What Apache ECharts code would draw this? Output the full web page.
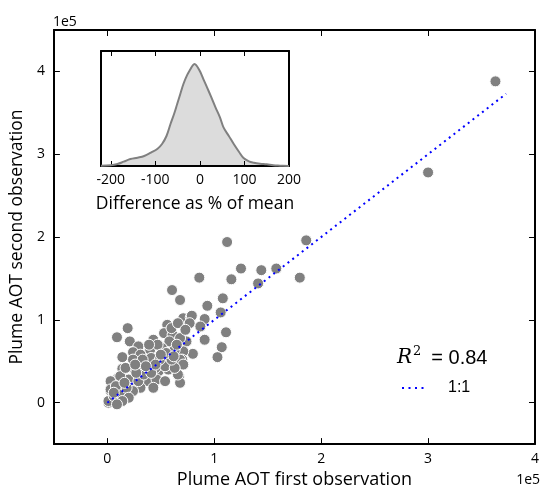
<!DOCTYPE html>
<html>
<head>
<meta charset="utf-8">
<script src="https://cdn.jsdelivr.net/npm/echarts@6/dist/echarts.min.js"></script>
<style>
html,body{margin:0;padding:0;background:#fff;}
#chart{width:542px;height:494px;}
</style>
</head>
<body>
<div id="chart"></div>
<script>
// ---- data (units of 1e5) ----
const mainXTicks = [0, 1, 2, 3, 4];
const mainYTicks = [0, 1, 2, 3, 4];
const insetTicks = [-200, -100, 0, 100, 200];

const firstObs = [3.63,3.00,1.86,1.12,1.80,1.58,1.44,1.25,1.16,1.41,0.86,0.605,0.68,0.935,1.08,1.06,1.11,1.07,1.03,0.91,
  0.74,0.71,0.78,0.79,0.91,0.77,0.87,0.80,0.71,0.70,0.19,0.09,0.21,0.29,0.56,0.53,0.61,0.43,0.58,0.68,
  0.40,0.51,0.63,0.24,0.31,0.14,0.34,0.41,0.51,0.58,0.68,0.71,0.14,0.24,0.35,0.48,0.57,0.67,0.68,0.10,
  0.20,0.31,0.38,0.46,0.43,0.31,0.21,0.03,0.03,0.12,0.04,0.15,0.01,0.24,0.01,0.06,0.12,0.03,0.18,0.29,
  0.12,0.54,0.66,0.17,0.45,0.54,0.63,0.34,0.41,0.24,0.33,0.49,0.60,0.20,0.14,0.09,0.47,0.55,0.45,0.27,
  0.08,0.06,0.16,0.36,0.62,0.50,0.26,0.39,0.60,0.66,0.73,0.65];
const secondObs = [3.88,2.78,1.96,1.94,1.51,1.62,1.60,1.62,1.49,1.44,1.51,1.36,1.24,1.17,1.26,1.09,0.85,0.67,0.55,0.76,
  0.74,1.02,1.03,1.05,1.01,0.96,0.92,0.59,0.62,0.52,0.90,0.79,0.74,0.68,0.94,0.84,0.82,0.76,0.74,0.78,
  0.64,0.66,0.64,0.61,0.58,0.55,0.50,0.54,0.52,0.48,0.52,0.46,0.41,0.42,0.40,0.38,0.40,0.32,0.24,0.30,
  0.28,0.30,0.26,0.28,0.18,0.18,0.18,0.26,0.14,0.10,0.04,0.06,0.00,0.14,0.02,0.08,0.12,0.16,0.18,0.26,
  0.32,0.26,0.34,0.42,0.42,0.44,0.42,0.34,0.36,0.52,0.52,0.52,0.52,0.06,0.02,-0.02,0.70,0.60,0.46,0.36,
  0.20,0.12,0.24,0.44,0.56,0.58,0.46,0.70,0.90,0.96,0.88,0.70];

const oneToOne = [0, 3.73];

const kdeX = [-222,-200,-185,-171,-156,-140,-125,-110,-95,-85,-75,-66,-58,-51,-44,-37,-29,-21,-16,-12,
  -8,-3,1,8,16,25,35,45,53,65,76,88,98,110,121,135,150,165,180,200];
const kdeY = [0.5,2,6,13,21,25,30,40,52,66,90,126,156,186,216,246,272,291,302,306,
  302,292,282,260,236,208,176,146,116,90,66,42,24,14,10,7,5,2,1,0];

const rSquared = '0.84';
const legendLabel = '1:1';

// ---- build ----
const scatterData = firstObs.map((x, i) => [x, secondObs[i]]);
const lineData = oneToOne.map(v => [v, v]);
const kdeData = kdeX.map((x, i) => [x, kdeY[i]]);

const FONT = 'Open Sans';
const chart = echarts.init(document.getElementById('chart'), null, {renderer: 'canvas'});

function mainAxis(extra) {
  return Object.assign({
    gridIndex: 0,
    type: 'value',
    axisLine: {show: true, onZero: false, lineStyle: {color: '#000', width: 2}},
    axisTick: {show: true, inside: true, length: 6, lineStyle: {color: '#000', width: 1}},
    splitLine: {show: false},
    axisLabel: {show: false}
  }, extra);
}

const option = {
  color: ['#808080', '#0000ff', '#808080'],
  backgroundColor: '#fff',
  animation: false,
  grid: [
    {left: 53, top: 30, width: 487, height: 417, show: true, backgroundColor: '#fff', borderWidth: 0},
    {left: 101, top: 51, width: 188, height: 115, show: true, backgroundColor: '#fff', borderWidth: 0, z: 5}
  ],
  xAxis: [
    mainAxis({position: 'bottom', min: -0.5, max: 4,
      axisTick: {show: true, inside: true, length: 6, customValues: mainXTicks, lineStyle: {color: '#000', width: 1}},
      axisLabel: {show: true, customValues: mainXTicks, margin: 8, color: '#000', fontSize: 14, fontFamily: FONT},
      name: 'Plume AOT first observation', nameLocation: 'middle', nameGap: 24,
      nameTextStyle: {color: '#000', fontSize: 18, fontFamily: FONT}}),
    mainAxis({position: 'top', min: -0.5, max: 4,
      axisTick: {show: true, inside: true, length: 6, customValues: mainXTicks, lineStyle: {color: '#000', width: 1}}}),
    {gridIndex: 1, type: 'value', position: 'bottom', min: -222, max: 200, z: 6,
      axisLine: {show: true, onZero: false, lineStyle: {color: '#000', width: 2}},
      axisTick: {show: true, inside: true, length: 5, customValues: insetTicks, lineStyle: {color: '#000', width: 1}},
      axisLabel: {show: true, customValues: insetTicks, margin: 7, color: '#000', fontSize: 14, fontFamily: FONT},
      splitLine: {show: false},
      name: 'Difference as % of mean', nameLocation: 'middle', nameGap: 29,
      nameTextStyle: {color: '#000', fontSize: 17.5, fontFamily: FONT}},
    {gridIndex: 1, type: 'value', position: 'top', min: -222, max: 200, z: 6,
      axisLine: {show: true, onZero: false, lineStyle: {color: '#000', width: 2}},
      axisTick: {show: true, inside: true, length: 5, customValues: insetTicks, lineStyle: {color: '#000', width: 1}},
      axisLabel: {show: false}, splitLine: {show: false}}
  ],
  yAxis: [
    mainAxis({position: 'left', min: -0.5, max: 4.5,
      axisTick: {show: true, inside: true, length: 6, customValues: mainYTicks, lineStyle: {color: '#000', width: 1}},
      axisLabel: {show: true, customValues: mainYTicks, margin: 9, color: '#000', fontSize: 14, fontFamily: FONT},
      name: 'Plume AOT second observation', nameLocation: 'middle', nameGap: 25,
      nameTextStyle: {color: '#000', fontSize: 17.5, fontFamily: FONT}}),
    mainAxis({position: 'right', min: -0.5, max: 4.5,
      axisTick: {show: true, inside: true, length: 6, customValues: mainYTicks, lineStyle: {color: '#000', width: 1}}}),
    {gridIndex: 1, type: 'value', position: 'left', min: 0, max: 345, z: 6,
      axisLine: {show: true, onZero: false, lineStyle: {color: '#000', width: 2}},
      axisTick: {show: false}, axisLabel: {show: false}, splitLine: {show: false}},
    {gridIndex: 1, type: 'value', position: 'right', min: 0, max: 345, z: 6,
      axisLine: {show: true, onZero: false, lineStyle: {color: '#000', width: 2}},
      axisTick: {show: false}, axisLabel: {show: false}, splitLine: {show: false}}
  ],
  graphic: [
    {type: 'text', x: 53, y: 15, style: {text: '1e5', fill: '#000', font: '14px "Open Sans"', align: 'left', verticalAlign: 'top'}},
    {type: 'text', x: 540, y: 473, style: {text: '1e5', fill: '#000', font: '14px "Open Sans"', align: 'right', verticalAlign: 'top'}},
    {type: 'text', x: 397, y: 345, style: {
      text: '{r|R}{s|2}{t|= ' + rSquared + '}',
      rich: {
        r: {fontFamily: 'DejaVu Serif', fontStyle: 'italic', fontSize: 20, fill: '#000', verticalAlign: 'bottom'},
        s: {fontFamily: 'DejaVu Serif', fontSize: 13, fill: '#000', verticalAlign: 'top', padding: [0, 10, 10, 1]},
        t: {fontFamily: 'Liberation Sans', fontSize: 20, fill: '#000', verticalAlign: 'bottom'}
      }
    }},
    {type: 'line', shape: {x1: 402, y1: 388, x2: 428, y2: 388},
      style: {stroke: '#0000ff', lineWidth: 2, lineDash: [2, 4.5]}},
    {type: 'text', x: 448, y: 388, style: {text: legendLabel, fill: '#000', font: '16px "Liberation Sans"', align: 'left', verticalAlign: 'middle'}}
  ],
  series: [
    {type: 'scatter', xAxisIndex: 0, yAxisIndex: 0, data: scatterData,
      symbolSize: 11, itemStyle: {color: '#808080', borderColor: '#fff', borderWidth: 1, opacity: 1}, z: 2},
    {type: 'line', name: '1:1', xAxisIndex: 0, yAxisIndex: 0, data: lineData, symbol: 'none', showSymbol: false,
      lineStyle: {color: '#0000ff', width: 2, type: [2, 4]}, itemStyle: {color: '#0000ff'}, z: 3},
    {type: 'line', xAxisIndex: 2, yAxisIndex: 2, data: kdeData, symbol: 'none', showSymbol: false, smooth: 0.4,
      lineStyle: {color: '#808080', width: 2}, itemStyle: {color: '#808080'}, areaStyle: {color: '#dcdcdc', opacity: 1}, z: 6}
  ]
};
chart.setOption(option);
</script>
</body>
</html>
